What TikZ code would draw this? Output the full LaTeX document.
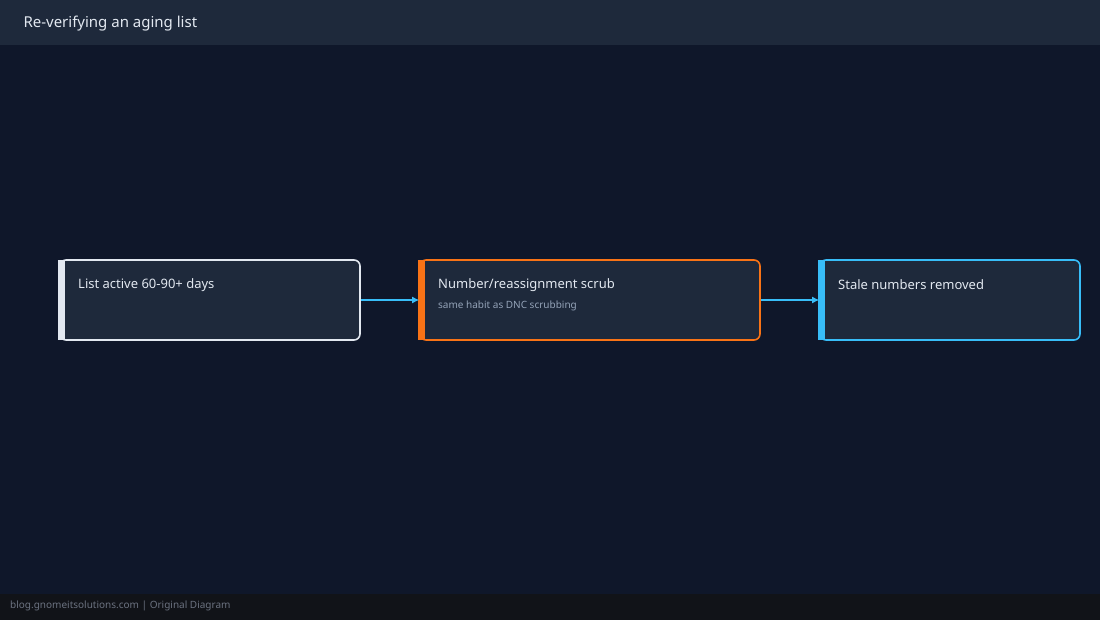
\documentclass[tikz,border=0pt]{standalone}
\usepackage{fontspec}
\setmainfont{Noto Sans}
\usetikzlibrary{arrows.meta,positioning}
\definecolor{bgdark}{HTML}{0F172A}
\definecolor{barbg}{HTML}{1E293B}
\definecolor{footbg}{HTML}{111318}
\definecolor{txtlight}{HTML}{E2E8F0}
\definecolor{txtgray}{HTML}{94A3B8}
\definecolor{accorange}{HTML}{F97316}
\definecolor{accsky}{HTML}{38BDF8}
\definecolor{footgray}{HTML}{6B7280}
\begin{document}
\begin{tikzpicture}[x=1pt,y=-1pt,
            step/.style={draw=#1,fill=barbg,line width=1.6pt,rounded corners=6pt,minimum height=80pt,inner sep=0pt},
            steptitle/.style={anchor=west,text=txtlight,font=\fontsize{13}{15}\selectfont\bfseries,inner sep=0pt},
            stepnote/.style={anchor=west,text=txtgray,font=\fontsize{10}{12}\selectfont,inner sep=0pt},
            flow/.style={draw=accsky,line width=1.6pt,-{Latex[length=7pt,width=7pt]}}
          ]
          \useasboundingbox (0,0) rectangle (1100,620);
          \fill[bgdark] (0,0) rectangle (1100,620);
          \fill[barbg] (0,0) rectangle (1100,45);
          \fill[footbg] (0,594) rectangle (1100,620);
          \node[anchor=west,text=txtlight,font=\fontsize{15}{18}\selectfont\bfseries] (heading) at (20,24) {Re-verifying an aging list};
          \node[anchor=west,text=footgray,font=\fontsize{10}{12}\selectfont,inner sep=0pt] (foot) at (10,606) {blog.gnomeitsolutions.com | Original Diagram};

          %steps
          \node[step=txtlight,minimum width=300pt] (list) at (210,300) {};
          \node[step=accorange,minimum width=340pt] (scrub) at (590,300) {};
          \node[step=accsky,minimum width=260pt] (stale) at (950,300) {};

          %left bars
          \fill[txtlight] ([xshift=-0.8pt,yshift=-0.8pt]list.north west) rectangle ([xshift=6pt,yshift=0.8pt]list.south west);
          \fill[accorange] ([xshift=-0.8pt,yshift=-0.8pt]scrub.north west) rectangle ([xshift=6pt,yshift=0.8pt]scrub.south west);
          \fill[accsky] ([xshift=-0.8pt,yshift=-0.8pt]stale.north west) rectangle ([xshift=6pt,yshift=0.8pt]stale.south west);

          %labels
          \node[steptitle] (listt) at (78,285) {List active 60-90+ days};
          \node[steptitle] (scrubt) at (438,285) {Number/reassignment scrub};
          \node[stepnote] (scrubn) at (438,306) {same habit as DNC scrubbing};
          \node[steptitle] (stalet) at (838,285) {Stale numbers removed};

          \draw[flow] (list.east) -- (scrub.west);
          \draw[flow] (scrub.east) -- (stale.west);
\end{tikzpicture}
\end{document}
